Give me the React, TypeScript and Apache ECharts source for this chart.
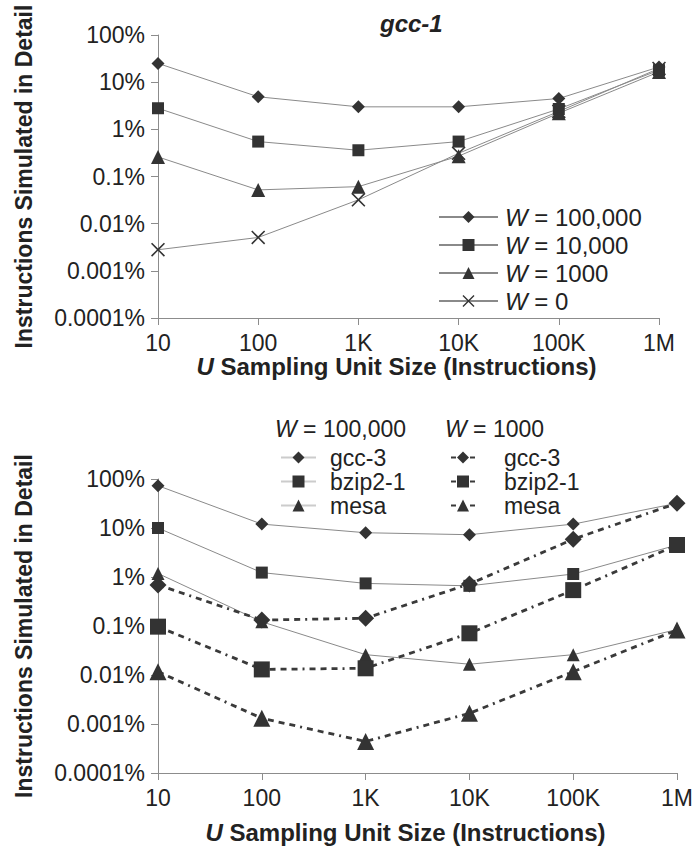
import React, { useEffect, useRef } from 'react';
import * as echarts from 'echarts';

const xValues = [10, 100, 1000, 10000, 100000, 1000000];
const xTickLabels = ['10', '100', '1K', '10K', '100K', '1M'];
const yTickLabels = ['0.0001%', '0.001%', '0.01%', '0.1%', '1%', '10%', '100%'];

const topTitle = 'gcc-1';
const topNames = ['W = 100,000', 'W = 10,000', 'W = 1000', 'W = 0'];
const topW100000 = [25, 4.9, 3.0, 3.0, 4.5, 21];
const topW10000 = [2.8, 0.55, 0.36, 0.55, 2.7, 18];
const topW1000 = [0.26, 0.052, 0.061, 0.27, 2.2, 16.5];
const topW0 = [0.0028, 0.0051, 0.032, 0.31, 2.4, 19.5];

const bottomHeaders = ['W = 100,000', 'W = 1000'];
const benchmarks = ['gcc-3', 'bzip2-1', 'mesa'];
const gcc3W100000 = [73, 12, 8, 7.3, 12, 32];
const bzip2W100000 = [10, 1.23, 0.74, 0.66, 1.15, 4.5];
const mesaW100000 = [1.18, 0.122, 0.026, 0.0166, 0.026, 0.085];
const gcc3W1000 = [0.69, 0.132, 0.144, 0.72, 5.9, 32];
const bzip2W1000 = [0.097, 0.013, 0.0137, 0.071, 0.54, 4.5];
const mesaW1000 = [0.0117, 0.00131, 0.00044, 0.00165, 0.0117, 0.083];

const yAxisTitle = 'Instructions Simulated in Detail';
const xAxisTitle = '{i|U} Sampling Unit Size (Instructions)';

const FONT = '"Liberation Sans", Arial, Helvetica, sans-serif';
const xSymbol =
  'path://M0,0.8L0.8,0L5,4.2L9.2,0L10,0.8L5.8,5L10,9.2L9.2,10L5,5.8L0.8,10L0,9.2L4.2,5Z';

const pts = (vals: number[]) => xValues.map((x, i) => [x, vals[i]]);

const xLabel = (v: number) => xTickLabels[Math.round(Math.log10(v)) - 1] ?? '';
const yLabel = (v: number) => yTickLabels[Math.round(Math.log10(v)) + 4] ?? '';

function makeXAxis(gridIndex: number, gap: number) {
  return {
    type: 'log',
    logBase: 10,
    gridIndex,
    min: 10,
    max: 1000000,
    splitNumber: 5,
    axisLine: { lineStyle: { color: '#8c8c8c', width: 1 } },
    axisTick: { show: true, length: 7, lineStyle: { color: '#8c8c8c' } },
    axisLabel: {
      formatter: xLabel,
      color: '#222',
      fontSize: 23,
      fontFamily: FONT,
      margin: 13,
      showMinLabel: true,
      showMaxLabel: true,
    },
    splitLine: { show: false },
    minorTick: { show: false },
    name: xAxisTitle,
    nameLocation: 'middle',
    nameGap: gap,
    nameTextStyle: {
      fontSize: 24,
      fontWeight: 'bold',
      fontFamily: FONT,
      color: '#222',
      padding: [0, 24, 0, 0],
      rich: {
        i: { fontSize: 24, fontWeight: 'bold', fontStyle: 'italic', fontFamily: FONT, color: '#222' },
      },
    },
  };
}

function makeYAxis(gridIndex: number) {
  return {
    type: 'log',
    logBase: 10,
    gridIndex,
    min: 0.0001,
    max: 100,
    splitNumber: 6,
    axisLine: { show: true, lineStyle: { color: '#8c8c8c', width: 1 } },
    axisTick: { show: true, length: 7, lineStyle: { color: '#8c8c8c' } },
    axisLabel: {
      formatter: yLabel,
      color: '#222',
      fontSize: 23,
      fontFamily: FONT,
      margin: 13,
      showMinLabel: true,
      showMaxLabel: true,
    },
    splitLine: { show: false },
    minorTick: { show: false },
    name: yAxisTitle,
    nameLocation: 'middle',
    nameRotate: 90,
    nameGap: 123,
    nameTextStyle: { fontSize: 23, fontWeight: 'bold', fontFamily: FONT, color: '#222' },
  };
}

function solid(name: string, vals: number[], symbol: string, size: number, axis: number) {
  return {
    type: 'line',
    name,
    xAxisIndex: axis,
    yAxisIndex: axis,
    data: pts(vals),
    symbol,
    symbolSize: size,
    showAllSymbol: true,
    itemStyle: { color: '#333' },
    lineStyle: { color: '#8a8a8a', width: 1 },
    emphasis: { disabled: true },
    z: 3,
  };
}

function dashed(name: string, vals: number[], symbol: string, size: number, axis: number) {
  return {
    type: 'line',
    name,
    xAxisIndex: axis,
    yAxisIndex: axis,
    data: pts(vals),
    symbol,
    symbolSize: size,
    showAllSymbol: true,
    itemStyle: { color: '#333' },
    lineStyle: { color: '#3a3a3a', width: 2.8, type: [6, 5, 6, 5, 6, 5, 2, 5] },
    emphasis: { disabled: true },
    z: 4,
  };
}

const richW = (size: number) => ({
  i: { fontStyle: 'italic', fontSize: size, fontFamily: FONT, color: '#222' },
});

export default function App() {
  const ref = useRef<HTMLDivElement>(null);

  useEffect(() => {
    document.body.style.margin = '0';
    if (!ref.current) return;
    const chart = echarts.init(ref.current, undefined, { renderer: 'svg' });

    const nm = (b: string, w: string) => `${b} (${w})`;

    const option = {
      animation: false,
      backgroundColor: '#fff',
      title: {
        text: topTitle,
        left: 375,
        top: 6,
        textStyle: { fontSize: 24, fontWeight: 'bold', fontStyle: 'italic', fontFamily: FONT, color: '#222' },
      },
      grid: [
        { left: 158, top: 35, width: 501, height: 283 },
        { left: 158, top: 479, width: 521, height: 294 },
      ],
      xAxis: [makeXAxis(0, 36), makeXAxis(1, 47)],
      yAxis: [makeYAxis(0), makeYAxis(1)],
      legend: [
        {
          orient: 'vertical',
          left: 433,
          top: 200,
          itemWidth: 59,
          itemHeight: 15,
          itemGap: 4,
          selectedMode: false,
          data: topNames,
          formatter: (n: string) => `{i|W}${n.slice(1)}`,
          textStyle: { fontSize: 24, fontFamily: FONT, color: '#222', padding: [0, 0, 0, 2], rich: richW(24) },
        },
        {
          orient: 'vertical',
          left: 275,
          top: 441,
          itemWidth: 35,
          itemHeight: 15,
          itemGap: 1,
          selectedMode: false,
          data: benchmarks.map((b) => nm(b, bottomHeaders[0])),
          formatter: (n: string) => n.split(' (')[0],
          lineStyle: { color: '#cccccc' },
          textStyle: { fontSize: 23, fontFamily: FONT, color: '#222', padding: [0, 0, 0, 9] },
        },
        {
          orient: 'vertical',
          left: 445,
          top: 441,
          itemWidth: 24,
          itemHeight: 15,
          itemGap: 1,
          selectedMode: false,
          data: benchmarks.map((b) => nm(b, bottomHeaders[1])),
          formatter: (n: string) => n.split(' (')[0],
          lineStyle: { type: [5, 14], width: 2 },
          textStyle: { fontSize: 23, fontFamily: FONT, color: '#222', padding: [0, 0, 0, 24] },
        },
      ],
      graphic: [
        {
          type: 'text',
          left: 275,
          top: 417,
          style: {
            text: `{i|W}${bottomHeaders[0].slice(1)}`,
            fontSize: 23,
            fontFamily: FONT,
            fill: '#222',
            rich: richW(23),
          },
        },
        {
          type: 'text',
          left: 445,
          top: 417,
          style: {
            text: `{i|W}${bottomHeaders[1].slice(1)}`,
            fontSize: 23,
            fontFamily: FONT,
            fill: '#222',
            rich: richW(23),
          },
        },
      ],
      series: [
        solid(topNames[0], topW100000, 'diamond', 13, 0),
        solid(topNames[1], topW10000, 'rect', 12, 0),
        solid(topNames[2], topW1000, 'triangle', 14, 0),
        solid(topNames[3], topW0, xSymbol, 14, 0),
        solid(nm(benchmarks[0], bottomHeaders[0]), gcc3W100000, 'diamond', 13, 1),
        solid(nm(benchmarks[1], bottomHeaders[0]), bzip2W100000, 'rect', 12, 1),
        solid(nm(benchmarks[2], bottomHeaders[0]), mesaW100000, 'triangle', 13, 1),
        dashed(nm(benchmarks[0], bottomHeaders[1]), gcc3W1000, 'diamond', 17, 1),
        dashed(nm(benchmarks[1], bottomHeaders[1]), bzip2W1000, 'rect', 16, 1),
        dashed(nm(benchmarks[2], bottomHeaders[1]), mesaW1000, 'triangle', 17, 1),
      ],
    };

    chart.setOption(option as any);
    return () => chart.dispose();
  }, []);

  return <div ref={ref} style={{ width: 696, height: 847 }} />;
}
